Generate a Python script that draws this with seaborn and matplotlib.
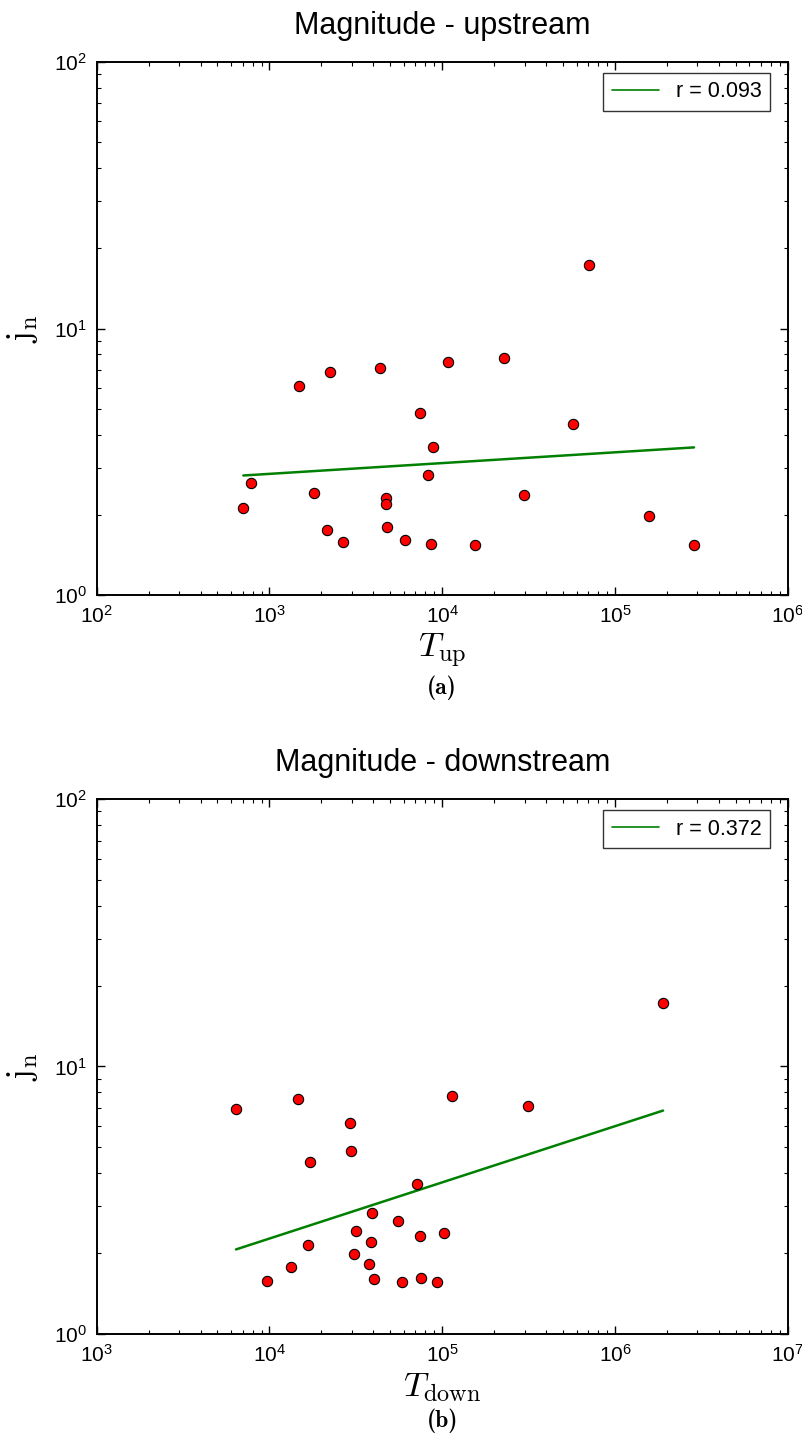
import numpy as np
import pandas as pd
import matplotlib
matplotlib.use("Agg")
import matplotlib.pyplot as plt
import seaborn as sns

# ---------------- data ----------------
T_up = [706, 779, 1489, 1804, 2145, 2241, 2677, 4347, 4710, 4710, 4792, 6066,
        7438, 8276, 8648, 8882, 10760, 15420, 22790, 29760, 57180, 70750,
        157500, 286900]
jn_up = [2.12, 2.63, 6.10, 2.41, 1.76, 6.90, 1.585, 7.10, 2.32, 2.19, 1.81, 1.61,
         4.81, 2.83, 1.56, 3.61, 7.52, 1.55, 7.76, 2.38, 4.39, 17.3,
         1.98, 1.55]

T_down = [6404, 9679, 13330, 14630, 16650, 17170, 29380, 29770, 30990, 31700,
          37540, 39070, 38550, 40290, 55710, 58750, 71170, 74380, 75070, 93300,
          102000, 113500, 313900, 1898000]
jn_down = [6.92, 1.575, 1.77, 7.56, 2.14, 4.38, 6.13, 4.84, 1.99, 2.42,
           1.82, 2.84, 2.20, 1.60, 2.64, 1.565, 3.63, 2.33, 1.62, 1.565,
           2.39, 7.78, 7.11, 17.3]

titles = ["Magnitude - upstream", "Magnitude - downstream"]
xlabels = [r"$T_{\mathrm{up}}$", r"$T_{\mathrm{down}}$"]
ylabel = r"$\mathrm{j_n}$"
r_values = [0.093, 0.372]
captions = ["(a)", "(b)"]
xlims = [(1e2, 1e6), (1e3, 1e7)]

# ---------------- style ----------------
sns.set_theme(style="ticks")
plt.rcParams.update({
    "font.family": ["Liberation Sans", "DejaVu Sans"],
    "mathtext.fontset": "cm",
    "text.color": "black",
    "axes.labelcolor": "black",
    "axes.titlecolor": "black",
    "axes.linewidth": 1.4,
    "axes.edgecolor": "black",
    "xtick.direction": "in",
    "ytick.direction": "in",
    "xtick.major.size": 6,
    "ytick.major.size": 6,
    "xtick.minor.size": 3,
    "ytick.minor.size": 3,
    "xtick.major.width": 1.0,
    "ytick.major.width": 1.0,
    "xtick.minor.width": 0.8,
    "ytick.minor.width": 0.8,
    "xtick.color": "black",
    "ytick.color": "black",
    "xtick.labelcolor": "black",
    "ytick.labelcolor": "black",
})

fig = plt.figure(figsize=(8.02, 14.41), dpi=100)
ax1 = fig.add_axes([0.1206, 0.5869, 0.8616, 0.3701])
ax2 = fig.add_axes([0.1206, 0.07446, 0.8616, 0.3709])

datasets = [(T_up, jn_up), (T_down, jn_down)]
caption_y = [1 - 688 / 1441, 1 - 1421 / 1441]

for i, (ax, (xs, ys)) in enumerate(zip([ax1, ax2], datasets)):
    df = pd.DataFrame({"T": xs, "jn": ys})
    ax.set_xscale("log")
    ax.set_yscale("log")
    # log-log least squares fit
    lx = np.log10(df["T"].values)
    ly = np.log10(df["jn"].values)
    slope, inter = np.polyfit(lx, ly, 1)
    xx = np.array([df["T"].min(), df["T"].max()])
    ax.plot(xx, 10 ** (inter + slope * np.log10(xx)), color="green", lw=1.8,
            label=f"r = {r_values[i]:.3f}", zorder=2)
    sns.scatterplot(data=df, x="T", y="jn", ax=ax, color="red", edgecolor="black",
                    linewidth=0.8, s=55, zorder=3, legend=False)
    ax.set_xlim(*xlims[i])
    ax.set_ylim(1, 100)
    ax.tick_params(which="both", top=True, right=True, labelsize=15, pad=7)
    ax.set_title(titles[i], fontsize=22, pad=20, color="black")
    ax.set_xlabel(xlabels[i], fontsize=25, labelpad=4)
    ax.set_ylabel(ylabel, fontsize=25, labelpad=10)
    leg = ax.legend(loc="upper right", bbox_to_anchor=(0.975, 0.98),
                    borderaxespad=0, fontsize=15.5, frameon=True, fancybox=False,
                    handlelength=2.2, handletextpad=0.8, borderpad=0.4)
    leg.get_frame().set_edgecolor("black")
    leg.get_frame().set_linewidth(1.0)
    for t in leg.get_texts():
        t.set_color("black")
    for h in leg.get_lines():
        h.set_linewidth(1.2)
    fig.text(0.1206 + 0.8616 / 2, caption_y[i], captions[i], fontsize=17,
             family=["cmb10", "DejaVu Serif"], ha="center", va="center",
             color="black")

fig.savefig("out.png", dpi=100)
